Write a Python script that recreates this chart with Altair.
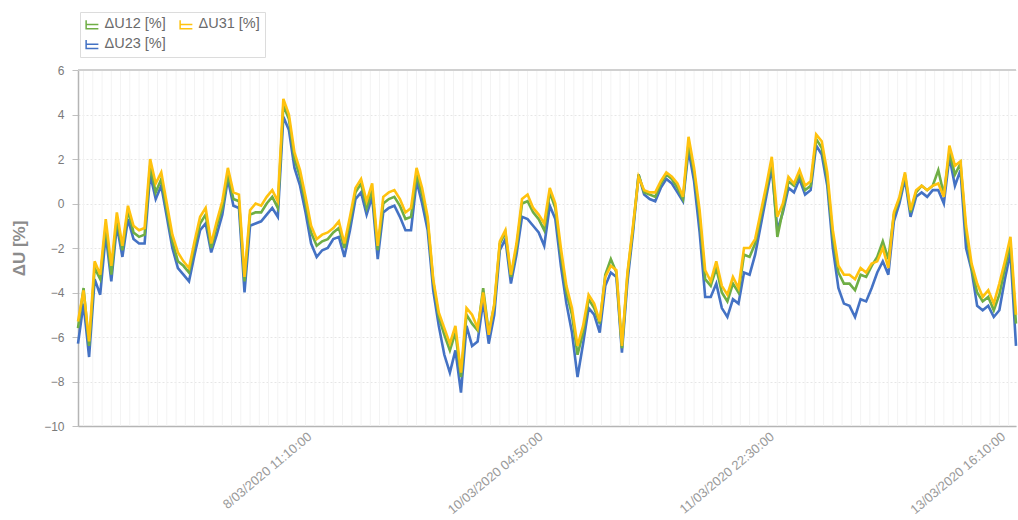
import altair as alt
import pandas as pd

# Hourly voltage deviation readings per phase pair, in percent
u31 = [
    -5.3, -3.9, -6.2, -2.6, -3.2, -0.7, -2.8, -0.4, -1.9, -0.1,
    -1.0, -1.2, -1.1, 2.0, 0.9, 1.4, 0.0, -1.4, -2.2, -2.6,
    -2.9, -1.7, -0.6, -0.2, -1.8, -0.8, 0.1, 1.6, 0.5, 0.4,
    -3.3, -0.3, 0.0, -0.1, 0.3, 0.6, 0.1, 4.7, 4.0, 2.3,
    1.5, 0.3, -1.0, -1.6, -1.4, -1.3, -1.1, -0.8, -1.8, -0.6,
    0.7, 1.1, 0.1, 0.9, -1.9, 0.3, 0.5, 0.6, 0.2, -0.4,
    -0.2, 1.6, 0.7, -0.6, -3.4, -4.9, -5.6, -6.3, -5.5, -7.6,
    -4.7, -5.0, -5.6, -4.0, -5.9, -4.5, -1.7, -1.2, -3.2, -1.8,
    0.2, 0.4, -0.2, -0.5, -0.9, 0.7, 0.0, -2.0, -3.7, -4.7,
    -6.4, -5.5, -4.1, -4.5, -5.3, -3.3, -2.8, -3.0, -6.4, -3.1,
    -1.0, 1.2, 0.6, 0.5, 0.5, 1.0, 1.4, 1.2, 0.9, 0.3,
    3.0, 1.6, -0.3, -3.0, -3.5, -2.6, -3.7, -4.1, -3.3, -3.8,
    -2.0, -2.0, -1.6, -0.4, 0.8, 2.1, -0.6, 0.0, 1.2, 0.9,
    1.5, 0.8, 1.0, 3.1, 2.8, 1.4, -1.2, -2.8, -3.2, -3.2,
    -3.4, -2.9, -3.1, -2.7, -2.6, -2.0, -2.9, -0.4, 0.3, 1.4,
    -0.3, 0.6, 0.8, 0.6, 0.8, 0.9, 0.3, 2.6, 1.7, 1.9,
    -1.0, -2.7, -3.6, -4.2, -3.9, -4.5, -3.6, -2.6, -1.5, -5.0,
]

u12 = [
    -5.6, -3.8, -6.4, -2.9, -3.4, -1.0, -3.2, -0.7, -2.1, -0.3,
    -1.3, -1.5, -1.4, 1.7, 0.5, 1.1, -0.3, -1.7, -2.6, -2.8,
    -3.1, -1.9, -0.9, -0.5, -2.0, -1.0, -0.2, 1.3, 0.2, 0.1,
    -3.5, -0.5, -0.4, -0.4, 0.0, 0.3, -0.2, 4.4, 3.8, 2.0,
    1.2, 0.0, -1.3, -1.9, -1.7, -1.6, -1.3, -1.1, -2.0, -0.8,
    0.5, 0.9, -0.2, 0.6, -2.1, 0.0, 0.2, 0.3, -0.1, -0.7,
    -0.6, 1.3, 0.4, -0.8, -3.5, -5.1, -5.9, -6.6, -5.8, -7.8,
    -5.0, -5.4, -5.7, -3.8, -5.8, -4.6, -1.8, -1.3, -3.3, -2.0,
    0.0, 0.1, -0.4, -0.7, -1.2, 0.5, -0.2, -2.3, -4.0, -5.0,
    -6.8, -5.8, -4.3, -4.7, -5.4, -3.2, -2.5, -3.1, -6.5, -3.2,
    -1.1, 1.3, 0.5, 0.4, 0.3, 0.9, 1.3, 1.1, 0.7, 0.2,
    2.7, 1.4, -0.6, -3.4, -3.7, -2.9, -4.0, -4.4, -3.6, -4.0,
    -2.3, -2.4, -1.8, -0.6, 0.6, 1.9, -1.5, -0.3, 1.0, 0.8,
    1.3, 0.6, 0.8, 2.9, 2.5, 1.1, -1.5, -3.1, -3.6, -3.6,
    -3.9, -3.2, -3.3, -2.8, -2.4, -1.7, -2.5, -0.5, 0.2, 1.3,
    -0.4, 0.5, 0.8, 0.6, 0.8, 1.5, 0.4, 2.3, 1.3, 1.8,
    -1.3, -2.9, -4.0, -4.4, -4.2, -4.8, -4.1, -2.9, -1.8, -5.4,
]

u23 = [
    -6.3, -4.5, -6.9, -3.4, -4.1, -1.4, -3.5, -1.0, -2.4, -0.7,
    -1.6, -1.8, -1.8, 1.3, 0.2, 0.8, -0.6, -2.0, -2.9, -3.2,
    -3.5, -2.3, -1.2, -0.9, -2.2, -1.4, -0.5, 1.1, -0.1, -0.2,
    -4.0, -1.0, -0.9, -0.8, -0.5, -0.2, -0.6, 3.9, 3.3, 1.6,
    0.8, -0.4, -1.8, -2.4, -2.1, -2.0, -1.6, -1.5, -2.4, -1.2,
    0.2, 0.5, -0.5, 0.3, -2.5, -0.4, -0.2, -0.1, -0.6, -1.2,
    -1.2, 1.0, 0.0, -1.2, -3.9, -5.5, -6.8, -7.6, -6.6, -8.5,
    -5.5, -6.4, -6.2, -4.4, -6.3, -5.0, -2.1, -1.6, -3.6, -2.3,
    -0.6, -0.7, -1.0, -1.3, -1.9, -0.1, -0.7, -2.8, -4.5, -5.8,
    -7.8, -6.3, -4.7, -5.0, -5.8, -3.7, -3.1, -3.3, -6.7, -3.5,
    -1.3, 1.3, 0.4, 0.2, 0.1, 0.7, 1.1, 0.9, 0.5, 0.1,
    2.4, 1.0, -1.3, -4.2, -4.2, -3.6, -4.7, -5.1, -4.3, -4.5,
    -3.1, -3.2, -2.3, -1.0, 0.3, 1.6, -1.2, -0.4, 0.7, 0.5,
    1.1, 0.4, 0.6, 2.6, 2.2, 0.8, -2.0, -3.8, -4.5, -4.6,
    -5.1, -4.3, -4.4, -3.8, -3.1, -2.6, -3.2, -0.8, 0.0, 1.1,
    -0.6, 0.3, 0.5, 0.3, 0.6, 0.6, 0.0, 2.1, 0.8, 1.5,
    -2.0, -3.0, -4.6, -4.8, -4.6, -5.1, -4.8, -3.4, -2.2, -6.4,
]

series_names = ["ΔU12 [%]", "ΔU31 [%]", "ΔU23 [%]"]
series_colors = ["#6fae45", "#ffc20e", "#4472c4"]
start_time = "2020-03-06 18:10"
grid_start = "2020-03-06 19:10"
tick_times = ["2020-03-08 11:10", "2020-03-10 04:50", "2020-03-11 22:30", "2020-03-13 16:10"]
y_ticks = [6, 4, 2, 0, -2, -4, -6, -8, -10]

times = pd.date_range(start_time, periods=len(u31), freq="h", tz="UTC")
iso = list(times.strftime("%Y-%m-%dT%H:%M:%SZ"))


def to_ms(ts):
    return int(pd.Timestamp(ts).value // 10**6)


domain_ms = [to_ms(times[0]), to_ms(times[-1])]
tick_ms = [to_ms(pd.Timestamp(t, tz="UTC")) for t in tick_times]

# faint vertical grid every 100 minutes, aligned with the labelled ticks
grid_times = pd.date_range(pd.Timestamp(grid_start, tz="UTC"), times[-1], freq="100min")
grid_df = pd.DataFrame({"time": list(grid_times.strftime("%Y-%m-%dT%H:%M:%SZ"))})

frames = {
    "ΔU12 [%]": pd.DataFrame({"time": iso, "value": u12, "series": "ΔU12 [%]"}),
    "ΔU31 [%]": pd.DataFrame({"time": iso, "value": u31, "series": "ΔU31 [%]"}),
    "ΔU23 [%]": pd.DataFrame({"time": iso, "value": u23, "series": "ΔU23 [%]"}),
}

x_scale = alt.Scale(type="utc", domain=domain_ms)

x_enc = alt.X(
    "time:T",
    scale=x_scale,
    axis=alt.Axis(
        values=tick_ms,
        labelExpr="utcFormat(datum.value, '%-d/%m/%Y %H:%M:%S')",
        labelAngle=-40,
        labelAlign="right",
        labelBaseline="top",
        labelColor="#9a9a9a",
        labelFontSize=13,
        labelPadding=4,
        grid=False,
        ticks=False,
        domainColor="#b5b5b5",
        domainWidth=1.5,
        title=None,
    ),
)

y_enc = alt.Y(
    "value:Q",
    scale=alt.Scale(domain=[-10, 6], nice=False, zero=False),
    axis=alt.Axis(
        values=y_ticks,
        title="ΔU [%]",
        titleFontSize=17,
        titleFontWeight="bold",
        titleColor="#8c8c8c",
        titleX=-50,
        labelColor="#7a7a7a",
        labelFontSize=12,
        labelPadding=8,
        tickColor="#c0c0c0",
        tickSize=6,
        domainColor="#b5b5b5",
        domainWidth=1.5,
        gridColor="#e6e6e6",
        gridDash=[2, 2],
    ),
)

color_enc = alt.Color(
    "series:N",
    scale=alt.Scale(domain=series_names, range=series_colors),
    legend=alt.Legend(
        title=None,
        orient="none",
        legendX=2,
        legendY=-58,
        columns=2,
        direction="horizontal",
        symbolType="M-1,-0.7V0.7H1M-1,0H1",
        symbolStrokeWidth=1.5,
        symbolSize=150,
        labelFontSize=14.5,
        labelColor="#6a6a6a",
        strokeColor="#dcdcdc",
        padding=5,
        rowPadding=4,
        columnPadding=11,
        labelOffset=5,
    ),
)

vgrid = alt.Chart(grid_df).mark_rule(color="#f3f3f3", strokeWidth=1).encode(x=x_enc)


def line_layer(name):
    return alt.Chart(frames[name]).mark_line(strokeWidth=2.6, interpolate="linear").encode(
        x=x_enc, y=y_enc, color=color_enc
    )


top_rule = alt.Chart(grid_df).mark_rule(color="#cfcfcf", strokeWidth=1.2).encode(
    y=alt.datum(6)
)

chart = alt.layer(
    vgrid,
    line_layer("ΔU23 [%]"),
    line_layer("ΔU12 [%]"),
    line_layer("ΔU31 [%]"),
    top_rule,
).properties(
    width=938,
    height=356,
    autosize=alt.AutoSizeParams(type="none"),
    padding={"left": 78, "top": 70, "right": 2, "bottom": 94},
).configure(
    font="Liberation Sans",
).configure_view(
    stroke=None,
)

chart.save("out.html", embed_options={"renderer": "svg", "actions": False})
